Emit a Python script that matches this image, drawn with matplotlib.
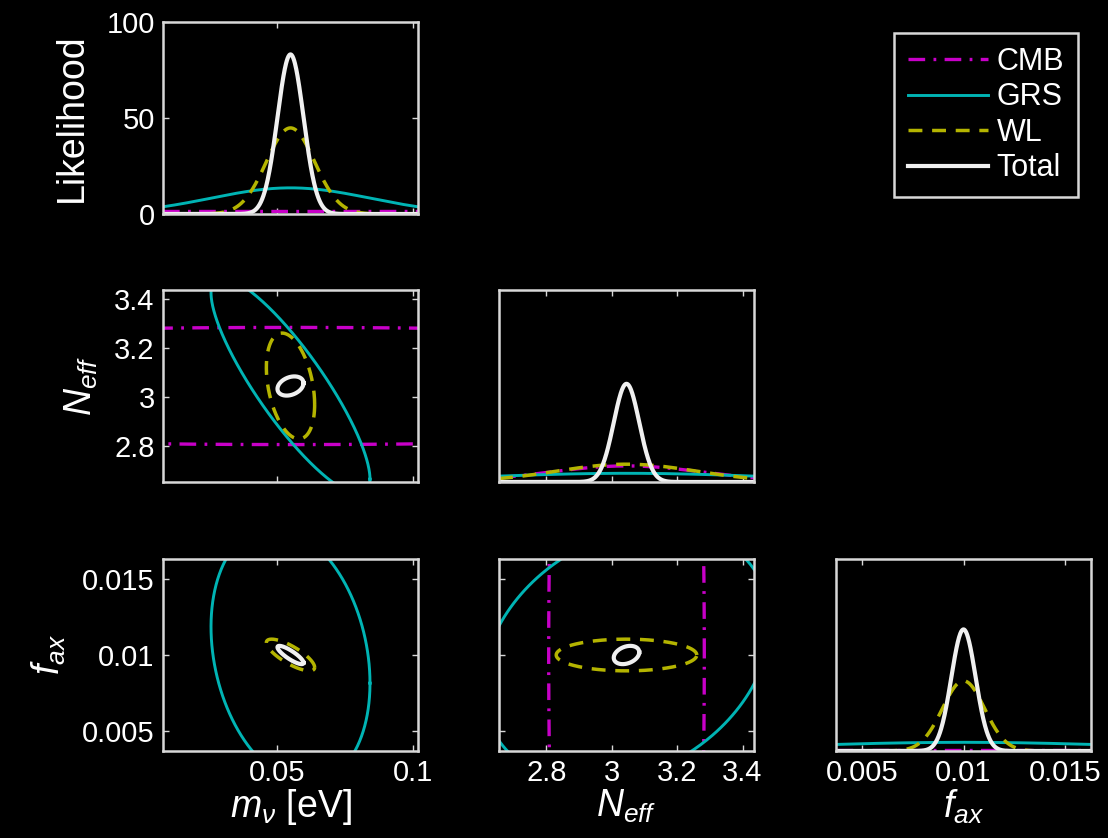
import numpy as np
import matplotlib
matplotlib.use('Agg')
import matplotlib.pyplot as plt
from matplotlib.lines import Line2D

# parameters: neutrino mass, effective number of species, axion fraction
param_labels = [r'$m_\nu$ [eV]', r'$N_{eff}$', r'$f_{ax}$']
fiducial = [0.055, 3.045, 0.01]
half_range = [0.047, 0.39, 0.0063]

tick_values = [[0.05, 0.1], [2.8, 3.0, 3.2, 3.4], [0.005, 0.01, 0.015]]
tick_labels = [['0.05', '0.1'], ['2.8', '3', '3.2', '3.4'], ['0.005', '0.01', '0.015']]

like_ticks = [0, 50, 100]
like_tick_labels = ['0', '50', '100']
like_ymax = [100, 20, 1050]

probes = ['CMB', 'GRS', 'WL', 'Total']
# 1-sigma errors on (m_nu, N_eff, f_ax) for each probe
sigma_cmb = [0.30, 0.238, 0.05]
sigma_grs = [0.0293, 0.44, 0.0084]
sigma_wl = [0.0089, 0.215, 0.00104]
sigma_tot = [0.0048, 0.039, 0.0006]
# correlations for (m_nu,N_eff), (m_nu,f_ax), (N_eff,f_ax)
corr_cmb = [0.0, 0.0, 0.0]
corr_grs = [-0.86, -0.22, 0.25]
corr_wl = [-0.35, -0.78, 0.0]
corr_tot = [0.30, -0.85, 0.30]

sigmas = {'CMB': sigma_cmb, 'GRS': sigma_grs, 'WL': sigma_wl, 'Total': sigma_tot}
corrs = {'CMB': corr_cmb, 'GRS': corr_grs, 'WL': corr_wl, 'Total': corr_tot}
pair_index = {(0, 1): 0, (0, 2): 1, (1, 2): 2}

styles = {
    'CMB': dict(color='#c800c8', ls=(0, (12, 6, 2, 6)), lw=2.4),
    'GRS': dict(color='#00b4b4', ls='-', lw=2.1),
    'WL': dict(color='#b4b400', ls=(0, (10, 7)), lw=2.5),
    'Total': dict(color='#f0f0f0', ls='-', lw=3.0),
}

plt.rcParams['lines.scale_dashes'] = False
plt.rcParams['font.family'] = ['Liberation Sans', 'DejaVu Sans']
plt.rcParams['mathtext.fontset'] = 'custom'
plt.rcParams['mathtext.rm'] = 'Liberation Sans'
plt.rcParams['mathtext.it'] = 'Liberation Sans:italic'
plt.rcParams['mathtext.bf'] = 'Liberation Sans:bold'

fg = 'white'
spine_col = '#d8d8d8'


def gauss(x, mu, s):
    return np.exp(-0.5 * ((x - mu) / s) ** 2) / (s * np.sqrt(2 * np.pi))


def ellipse(mx, my, sx, sy, rho):
    t = np.linspace(0, 2 * np.pi, 500)
    x = mx + sx * np.cos(t)
    y = my + sy * (rho * np.cos(t) + np.sqrt(1 - rho ** 2) * np.sin(t))
    return x, y


W, H = 1108, 838
fig = plt.figure(figsize=(W / 100, H / 100), dpi=100, facecolor='black')

col_x = [163, 499, 836]
row_y = [22, 290, 559]
aw, ah = 255, 192

for i in range(3):
    for j in range(i + 1):
        ax = fig.add_axes([col_x[j] / W, 1 - (row_y[i] + ah) / H, aw / W, ah / H])
        ax.set_facecolor('black')
        for sp in ax.spines.values():
            sp.set_color(spine_col)
            sp.set_linewidth(1.8)
        ax.tick_params(direction='in', top=True, right=True, length=4, width=1,
                       colors=spine_col, labelcolor=fg, labelsize=21, pad=6)

        xlo, xhi = fiducial[j] - half_range[j], fiducial[j] + half_range[j]
        ax.set_xlim(xlo, xhi)
        ax.set_xticks(tick_values[j])

        if i == j:
            # marginalised 1D likelihoods
            x = np.linspace(xlo, xhi, 600)
            for p in probes:
                ax.plot(x, gauss(x, fiducial[i], sigmas[p][i]), **styles[p])
            ax.set_ylim(0, like_ymax[i])
            if i == 0:
                ax.set_yticks(like_ticks)
                ax.set_yticklabels(like_tick_labels)
                ax.set_ylabel('Likelihood', fontsize=27, color=fg, labelpad=12)
            else:
                ax.set_yticks([])
        else:
            # 2D 1-sigma contours, x = parameter j, y = parameter i
            k = pair_index[(j, i)]
            for p in probes:
                ex, ey = ellipse(fiducial[j], fiducial[i], sigmas[p][j], sigmas[p][i], corrs[p][k])
                ax.plot(ex, ey, **styles[p])
            ax.set_ylim(fiducial[i] - half_range[i], fiducial[i] + half_range[i])
            ax.set_yticks(tick_values[i])
            if j == 0:
                ax.set_yticklabels(tick_labels[i])
                ax.set_ylabel(param_labels[i], fontsize=27, color=fg, labelpad=10)
            else:
                ax.set_yticklabels([])

        if i == 2:
            ax.set_xticklabels(tick_labels[j])
            ax.set_xlabel(param_labels[j], fontsize=27, color=fg, labelpad=0)
        else:
            ax.set_xticklabels([])

handles = [Line2D([], [], **styles[p]) for p in probes]
leg = fig.legend(handles, probes, loc='upper right',
                 bbox_to_anchor=(1078 / W, 1 - 33 / H), bbox_transform=fig.transFigure,
                 fontsize=22, handlelength=2.6, handletextpad=0.3, labelspacing=0.18,
                 borderpad=0.45, borderaxespad=0, fancybox=False,
                 facecolor='black', edgecolor=spine_col, framealpha=1)
leg.get_frame().set_linewidth(1.8)
for t in leg.get_texts():
    t.set_color(fg)

fig.savefig('out.png', dpi=100, facecolor='black')
